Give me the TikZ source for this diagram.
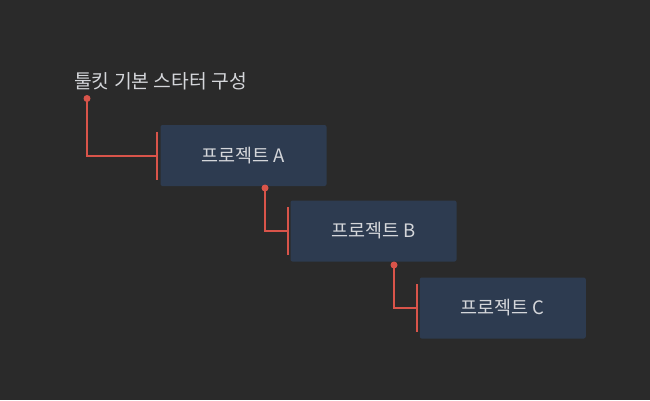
\documentclass[tikz,border=0pt]{standalone}
\usepackage{fontspec}
\newfontfamily\kr{Noto Sans CJK KR}
\usetikzlibrary{arrows.meta}

\definecolor{bgdark}{HTML}{2A2A2A}
\definecolor{boxblue}{HTML}{2D3B50}
\definecolor{linkred}{HTML}{D9544A}
\definecolor{textgrey}{HTML}{D4D6DA}

\tikzset{
  project/.style={shape=rectangle,rounded corners=2pt,fill=boxblue,
    minimum width=166pt,minimum height=61pt,text=textgrey,font=\kr\fontsize{18.5}{22}\selectfont},
  dot/.style={shape=circle,fill=linkred,inner sep=0pt,minimum size=7pt},
  link/.style={draw=linkred,line width=2pt,-{Bar[width=48pt]}}
}

\begin{document}
\begin{tikzpicture}[x=1pt,y=-1pt]
    \fill[bgdark] (0,0) rectangle (650,400);
    \useasboundingbox (0,0) rectangle (650,400);

    \node[anchor=base west,inner sep=0pt,text=textgrey,font=\kr\fontsize{19.3}{23}\selectfont] (title) at (74,88.5) {툴킷 기본 스타터 구성};

    \node[project] (A) at (243.5,155.5) {프로젝트 A};
    \node[project] (B) at (373.5,231) {프로젝트 B};
    \node[project] (C) at (502.75,308) {프로젝트 C};

    \node[dot] (d0) at (87,98.5) {};
    \node[dot] (dA) at (265,188) {};
    \node[dot] (dB) at (394,265) {};

    \coordinate (tA) at (158,155.5);
    \coordinate (tB) at (288.5,231);
    \coordinate (tC) at (418,308);

    \path [link] (d0.center) |- (tA);
    \path [link] (dA.center) |- (tB);
    \path [link] (dB.center) |- (tC);
\end{tikzpicture}
\end{document}
